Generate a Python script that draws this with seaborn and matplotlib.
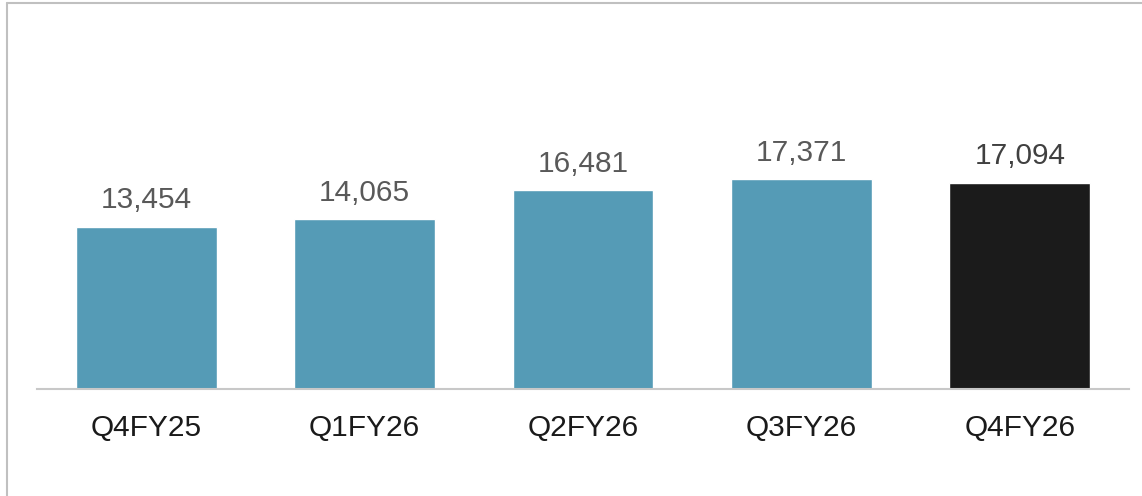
import pandas as pd
import seaborn as sns
import matplotlib.pyplot as plt
from matplotlib.lines import Line2D

# Chart values
quarters = ["Q4FY25", "Q1FY26", "Q2FY26", "Q3FY26", "Q4FY26"]
values = [13454, 14065, 16481, 17371, 17094]
bar_colors = ["#559bb6", "#559bb6", "#559bb6", "#559bb6", "#1b1b1b"]
label_colors = ["#595959", "#595959", "#595959", "#595959", "#404040"]

df = pd.DataFrame({"Quarter": quarters, "Value": values})

sns.set_theme(style="white")
plt.rcParams["font.family"] = ["Liberation Sans", "DejaVu Sans"]

fig = plt.figure(figsize=(11.42, 4.96), dpi=100)
ax = fig.add_axes([0.0324, 0.2157, 0.9562, 0.7278])

sns.barplot(data=df, x="Quarter", y="Value", hue="Quarter",
            palette=bar_colors, legend=False, width=0.645,
            saturation=1, ax=ax)

# Value labels above bars
for container, color in zip(ax.containers, label_colors):
    ax.bar_label(container, labels=[f"{v:,.0f}" for v in container.datavalues],
                 padding=9, fontsize=21.5, color=color)

ax.set_xlim(-0.5, len(quarters) - 0.5)
ax.set_ylim(0, 29900)
ax.set(xlabel="", ylabel="")
ax.set_yticks([])
ax.tick_params(axis="x", length=0, pad=18, labelsize=21.5, labelcolor="#1a1a1a")

# Only the baseline is kept
for side in ["top", "right", "left"]:
    ax.spines[side].set_visible(False)
ax.spines["bottom"].set_color("#c8c8c8")
ax.spines["bottom"].set_linewidth(1.5)

# Light frame on top and left of the figure
fig.add_artist(Line2D([0.0065, 0.0065], [0, 0.993], transform=fig.transFigure,
                      color="#c0c0c0", linewidth=1.5))
fig.add_artist(Line2D([0.0065, 1], [0.993, 0.993], transform=fig.transFigure,
                      color="#c0c0c0", linewidth=1.5))

plt.savefig("out.png", dpi=100)
